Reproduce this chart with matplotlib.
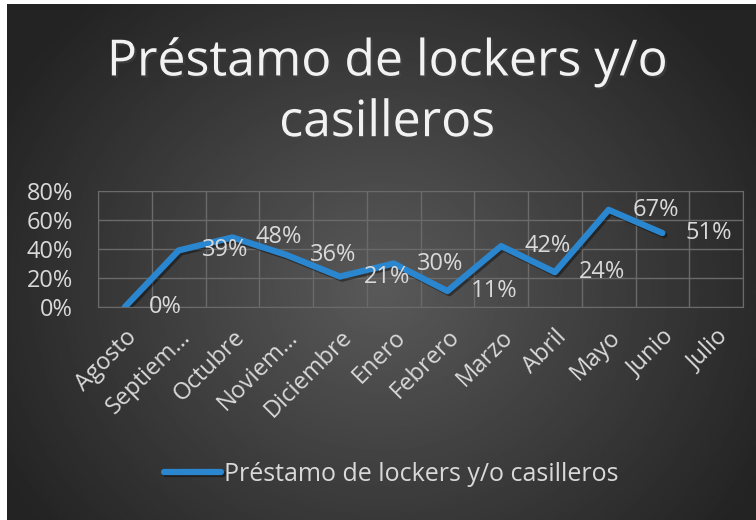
import numpy as np
from matplotlib import pyplot as plt
import matplotlib.patheffects as pe

# Datos
meses = ['Agosto', 'Septiem…', 'Octubre', 'Noviem…', 'Diciembre', 'Enero',
         'Febrero', 'Marzo', 'Abril', 'Mayo', 'Junio', 'Julio']
valores = [0.00, 0.39, 0.48, 0.36, 0.21, 0.30, 0.11, 0.42, 0.24, 0.67, 0.51]
etiquetas_y = [0, 0.2, 0.4, 0.6, 0.8]
titulo = 'Préstamo de lockers y/o\ncasilleros'
serie = 'Préstamo de lockers y/o casilleros'

plt.rcParams['font.family'] = ['Open Sans', 'DejaVu Sans']
gris_texto = '#d9d9d9'
gris_grid = '#6a6a6a'
azul = '#2a86cf'

fig = plt.figure(figsize=(7.56, 5.20), dpi=100, facecolor='white')

# Fondo con degradado radial
fondo = fig.add_axes([7/756, 0, 1 - 7/756, 1 - 4/520])
yy, xx = np.mgrid[0:1:300j, 0:1:400j]
r = np.sqrt(((xx - 0.5) * 1.3) ** 2 + (yy - 0.45) ** 2)
grad = np.clip(0.35 - 0.28 * r, 0.14, 0.35)
fondo.imshow(grad, cmap='gray', vmin=0, vmax=1, aspect='auto',
             extent=[0, 1, 0, 1], origin='lower')
fondo.axis('off')

ax = fig.add_axes([98/756, 1 - 307/520, (743 - 98)/756, (307 - 191)/520])
ax.patch.set_alpha(0)
x = np.arange(len(valores))
sombra = [pe.SimpleLineShadow(offset=(1.5, -1.5), alpha=0.4, shadow_color='black'), pe.Normal()]
ax.plot(x, valores, color=azul, lw=4.5, solid_capstyle='round',
        solid_joinstyle='round', label=serie, path_effects=sombra)

for xi, v in zip(x, valores):
    ax.annotate(f'{v:.0%}', (xi, v), xytext=(17, 0), textcoords='offset points',
                ha='left', va='center', color=gris_texto, fontsize=17)

ax.set_xlim(-0.5, len(meses) - 0.5)
ax.set_ylim(0, 0.8)
ax.set_yticks(etiquetas_y)
ax.set_yticklabels([f'{v:.0%}' for v in etiquetas_y])
ax.set_xticks(np.arange(len(meses)))
ax.set_xticklabels(meses, rotation=45, ha='right', rotation_mode='anchor')
ax.set_xticks(np.arange(len(meses) + 1) - 0.5, minor=True)
ax.tick_params(axis='both', which='both', length=0, colors=gris_texto, labelsize=17)
ax.tick_params(axis='y', pad=18)
ax.tick_params(axis='x', pad=13)
ax.grid(True, axis='y', color=gris_grid, lw=1)
ax.grid(True, axis='x', which='minor', color=gris_grid, lw=1)
for s in ax.spines.values():
    s.set_color(gris_grid)

fig.text(0.512, 0.822, titulo, ha='center', va='center', color='#f2f2f2',
         fontsize=36, linespacing=1.3,
         path_effects=[pe.withSimplePatchShadow(offset=(1.5, -1.5), alpha=0.5)])

leg = fig.legend(loc='center', bbox_to_anchor=(0.517, 0.088), frameon=False,
                 fontsize=18, handlelength=2.3, handletextpad=0.1,
                 labelcolor=gris_texto)

fig.savefig('out.png', dpi=100, facecolor=fig.get_facecolor())
